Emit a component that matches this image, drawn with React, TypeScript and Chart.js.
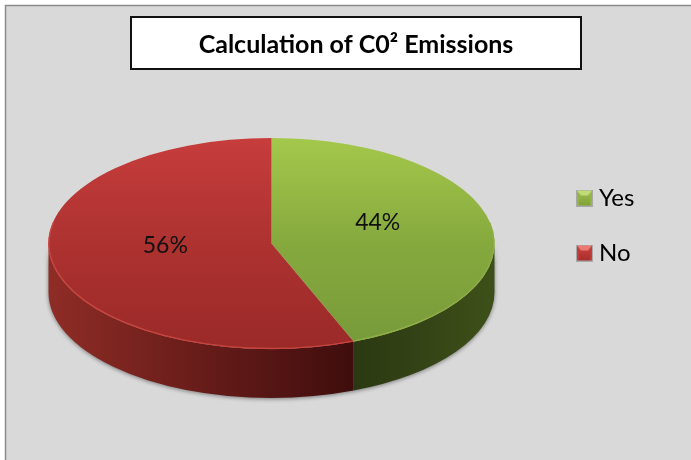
import React, { useEffect, useRef } from "react";
import { Chart, registerables } from "chart.js";

Chart.register(...registerables);

const titleText = "Calculation of C0² Emissions";
const categories = ["Yes", "No"];
const shares = [44, 56];
const sideStops = [
  ["#2b3812", "#3e5019"],
  ["#8f2c26", "#3f0d0d"],
];
const topStops = [
  ["#a4c84b", "#86a93e", "#779a3a"],
  ["#c63d3c", "#ad3230", "#9a2a28"],
];
const swatchColors = [
  { top: "#c0db78", side: "#94b548", bottom: "#7f9f36" },
  { top: "#ea7a74", side: "#c23c3a", bottom: "#a52d2c" },
];

const CX_LEFT = 48.5, CX_RIGHT = 494.5, AREA_TOP = 7, AREA_BOTTOM = 453;
const TOP_Y = 243.5, RY = 105.5, DEPTH = 49;
const FONT = "Lato";

function makeSwatch(i: number) {
  const size = 17;
  const c = document.createElement("canvas");
  c.width = size;
  c.height = size;
  const x = c.getContext("2d")!;
  const col = swatchColors[i];
  x.fillStyle = col.side;
  x.fillRect(0, 0, size, size);
  x.fillStyle = col.top;
  x.beginPath();
  x.moveTo(0, 0);
  x.lineTo(size, 0);
  x.lineTo(size - 5, 6);
  x.lineTo(5, 6);
  x.closePath();
  x.fill();
  const g = x.createLinearGradient(0, 6, 0, size);
  g.addColorStop(0, col.side);
  g.addColorStop(1, col.bottom);
  x.fillStyle = g;
  x.fillRect(3, 6, size - 6, size - 6);
  x.strokeStyle = "#a8a8a8";
  x.lineWidth = 1;
  x.strokeRect(0.5, 0.5, size - 1, size - 1);
  return c;
}

function App() {
  const ref = useRef<HTMLCanvasElement>(null);
  useEffect(() => {
    const canvas = ref.current!;
    const squash = RY / 223;
    const pie3d = {
      id: "pie3d",
      beforeDraw(chart: any) {
        const { ctx } = chart;
        ctx.save();
        ctx.fillStyle = "#ffffff";
        ctx.fillRect(0, 0, 691, 460);
        ctx.fillStyle = "#d9d9d9";
        ctx.fillRect(5, 5, 686, 455);
        ctx.strokeStyle = "#8c8c8c";
        ctx.lineWidth = 1.5;
        ctx.beginPath();
        ctx.moveTo(5.5, 460);
        ctx.lineTo(5.5, 5.5);
        ctx.lineTo(691, 5.5);
        ctx.stroke();
        ctx.fillStyle = "#ffffff";
        ctx.fillRect(131, 17, 450, 52);
        ctx.strokeStyle = "#111111";
        ctx.lineWidth = 2;
        ctx.strokeRect(131, 17, 450, 52);
        ctx.restore();
      },
      afterLayout(chart: any) {
        const area = chart.chartArea;
        area.left = CX_LEFT;
        area.right = CX_RIGHT;
        area.top = AREA_TOP;
        area.bottom = AREA_BOTTOM;
        area.width = CX_RIGHT - CX_LEFT;
        area.height = AREA_BOTTOM - AREA_TOP;
        const title = chart.titleBlock;
        title.left = 131;
        title.right = 581;
        title.top = 27;
        title.bottom = 62;
        const legend = chart.legend;
        legend.left = 582 - legend.options.labels.padding;
        legend.top = 186 - legend.options.labels.padding;
        legend.right = 691;
        legend.bottom = 300;
        legend.fit();
        legend.adjustHitBoxes();
      },
      beforeDatasetsDraw(chart: any) {
        const { ctx } = chart;
        const arcs = chart.getDatasetMeta(0).data;
        ctx.save();
        arcs.forEach((arc: any, i: number) => {
          const cx = arc.x;
          const rx = arc.outerRadius;
          const a0 = ((arc.startAngle % (2 * Math.PI)) + 2 * Math.PI) % (2 * Math.PI);
          const span = arc.endAngle - arc.startAngle;
          const start = a0 > Math.PI ? 0 : a0;
          const end = Math.min(Math.PI, a0 > Math.PI ? a0 + span - 2 * Math.PI : a0 + span);
          if (end <= start) return;
          const x0 = cx + rx * Math.cos(end);
          const x1 = cx + rx * Math.cos(start);
          const g = ctx.createLinearGradient(x0, 0, x1, 0);
          g.addColorStop(0, sideStops[i][0]);
          g.addColorStop(1, sideStops[i][1]);
          ctx.save();
          ctx.shadowColor = "rgba(40,40,40,0.55)";
          ctx.shadowBlur = 4;
          ctx.shadowOffsetY = 1;
          ctx.fillStyle = g;
          ctx.beginPath();
          ctx.ellipse(cx, TOP_Y, rx, RY, 0, start, end);
          ctx.ellipse(cx, TOP_Y + DEPTH, rx, RY, 0, end, start, true);
          ctx.closePath();
          ctx.fill();
          ctx.restore();
        });
        ctx.translate(0, TOP_Y);
        ctx.scale(1, squash);
        ctx.translate(0, -(AREA_TOP + AREA_BOTTOM) / 2);
      },
      afterDatasetsDraw(chart: any) {
        const { ctx } = chart;
        ctx.restore();
        const arcs = chart.getDatasetMeta(0).data;
        ctx.save();
        const cx = arcs[0].x;
        const rx = arcs[0].outerRadius;
        const seam = arcs[0].endAngle;
        ctx.lineWidth = 1.5;
        ctx.strokeStyle = "#8fae45";
        ctx.beginPath();
        ctx.ellipse(cx, TOP_Y, rx - 0.5, RY - 0.5, 0, -0.2, seam);
        ctx.stroke();
        ctx.strokeStyle = "#c8443f";
        ctx.beginPath();
        ctx.ellipse(cx, TOP_Y, rx - 0.5, RY - 0.5, 0, seam, Math.PI + 0.2);
        ctx.stroke();
        ctx.fillStyle = "#111111";
        ctx.font = `23px ${FONT}`;
        ctx.textAlign = "center";
        ctx.textBaseline = "middle";
        arcs.forEach((arc: any, i: number) => {
          const p = arc.getCenterPoint();
          const dy = (p.y - (AREA_TOP + AREA_BOTTOM) / 2) * squash;
          ctx.fillText(`${shares[i]}%`, cx + (p.x - cx) * 0.97, TOP_Y - 9.5 + dy * 1.2);
        });
        ctx.restore();
      },
    };

    const chart = new Chart(canvas, {
      type: "pie",
      data: {
        labels: categories,
        datasets: [
          {
            data: shares,
            borderWidth: 0,
            clip: false,
            backgroundColor: (c: any) => {
              const i = c.dataIndex ?? 0;
              const g = c.chart.ctx.createLinearGradient(0, AREA_TOP, 0, AREA_BOTTOM);
              g.addColorStop(0, topStops[i][0]);
              g.addColorStop(0.5, topStops[i][1]);
              g.addColorStop(1, topStops[i][2]);
              return g;
            },
          } as any,
        ],
      },
      options: {
        responsive: false,
        animation: false,
        events: [],
        rotation: 0,
        layout: { padding: 0 },
        plugins: {
          tooltip: { enabled: false },
          title: {
            display: true,
            text: titleText,
            color: "#000000",
            align: "center",
            padding: 0,
            font: { family: FONT, size: 25, weight: "bold", lineHeight: 1.4 },
          },
          legend: {
            display: true,
            position: "right",
            align: "start",
            labels: {
              usePointStyle: true,
              boxWidth: 5,
              boxHeight: 17,
              padding: 31,
              color: "#000000",
              font: { family: FONT, size: 24 },
              generateLabels: () =>
                categories.map((text, i) => ({
                  text,
                  pointStyle: makeSwatch(i),
                  fillStyle: swatchColors[i].side,
                  strokeStyle: "#a8a8a8",
                  lineWidth: 1,
                  hidden: false,
                  index: i,
                  fontColor: "#000000",
                })),
            },
          },
        },
      },
      plugins: [pie3d],
    } as any);
    return () => chart.destroy();
  }, []);
  return (
    <div style={{ position: "absolute", left: 0, top: 0, width: 691, height: 460 }}>
      <canvas ref={ref} width={691} height={460} style={{ display: "block" }} />
    </div>
  );
}

export default App;
